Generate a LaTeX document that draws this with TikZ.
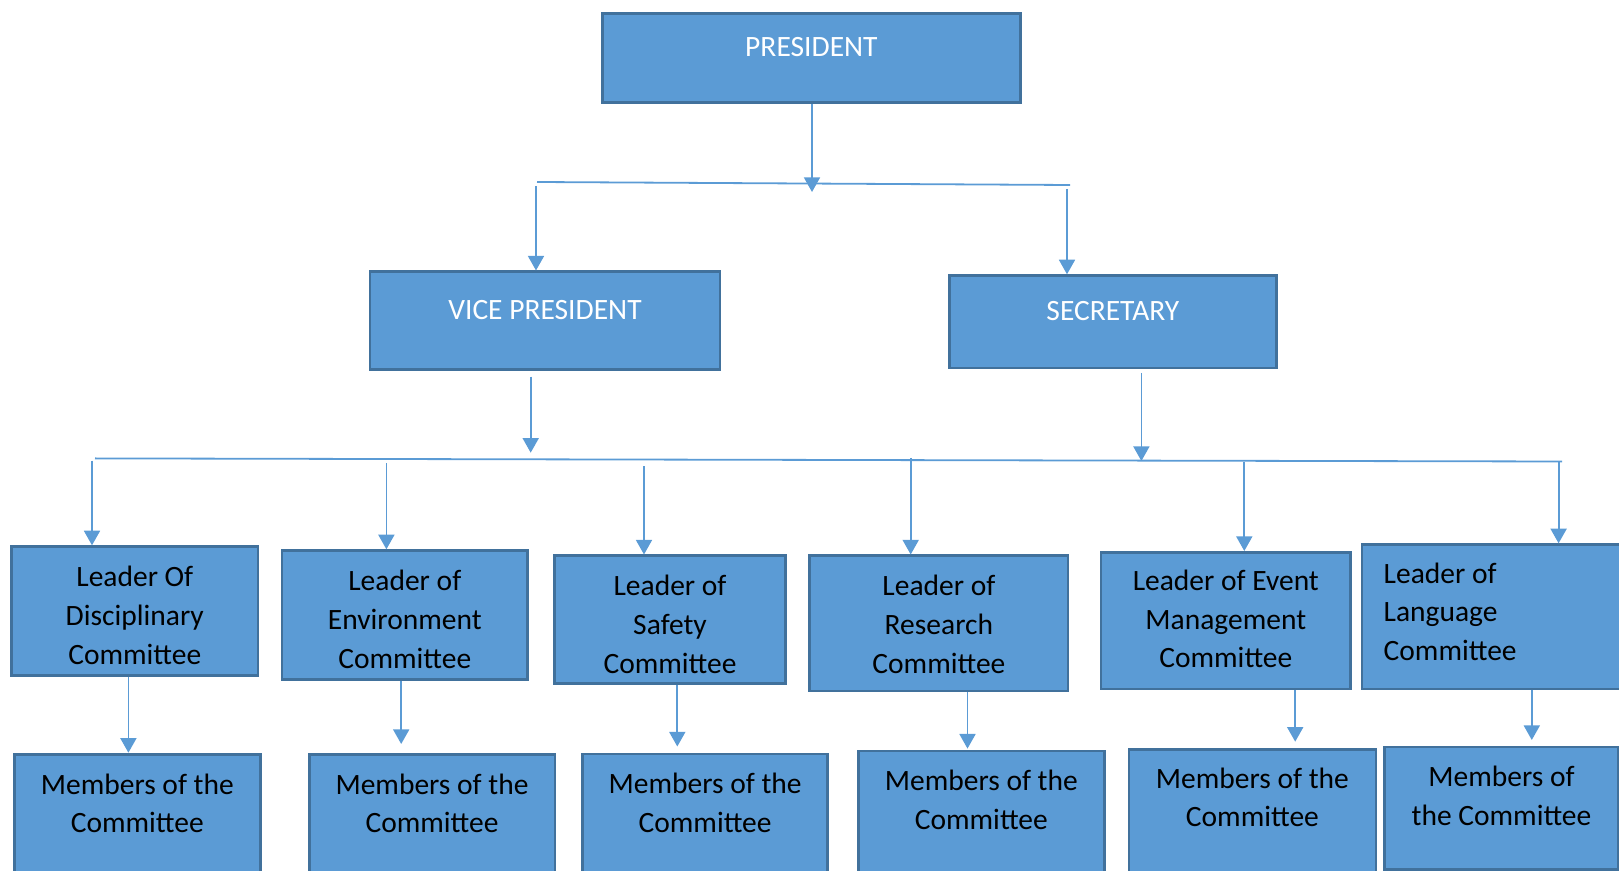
\documentclass[tikz,border=0pt]{standalone}
\usepackage{fontspec}
\setmainfont{Carlito}
\usetikzlibrary{arrows.meta}
\definecolor{boxfill}{RGB}{91,155,213}
\definecolor{boxline}{RGB}{65,113,156}
\definecolor{linkblue}{RGB}{91,155,213}
\newcommand{\boxfont}{\fontsize{14.75}{19.4}\selectfont}
\newcommand{\tipwidth}{8pt}
\newcommand{\tiplength}{7.3pt}
\tikzstyle{unit} = [% any box of the chart
  rectangle,
  draw=boxline,
  fill=boxfill,
  line width=1.4pt,
  inner xsep=0pt,
  inner ysep=0pt,
  align=flush center,
  anchor=north west,
  font=\boxfont
  ]
\tikzstyle{head} = [% office holders
  unit,
  text=white
  ]
\tikzstyle{member} = [% committee boxes
  unit,
  text=black
  ]
\tikzstyle{bus} = [% plain rail line
  draw=linkblue,
  line width=0.9pt
  ]
\tikzstyle{link} = [% arrow format
  bus,
  -{Triangle[width=\tipwidth,length=\tiplength]}
  ]

\begin{document}
\begin{tikzpicture}[x=0.5pt, y=-0.5pt]
\useasboundingbox (0,0) rectangle (1619,871);

%%% Office holders
\node[head, text width=209pt, text height=21.3pt, text depth=23pt] (pres) at (601,12.4) {PRESIDENT};
\node[head, text width=175pt, text height=23.9pt, text depth=25.1pt] (vp) at (368.6,270.5) {VICE PRESIDENT};
\node[head, text width=163.5pt, text height=22.5pt, text depth=23.7pt] (sec) at (948,274.3) {SECRETARY};

%%% Committee leaders
\node[member, text width=123.1pt, text height=19.9pt, text depth=44.6pt] (lead1) at (10.3,545.3) {Leader Of\\Disciplinary\\Committee};
\node[member, text width=122.8pt, text height=19.9pt, text depth=44.6pt] (lead2) at (280.6,549.3) {Leader of\\Environment\\Committee};
\node[member, text width=115.2pt, text height=20pt, text depth=44pt] (lead3) at (553.4,554.5) {Leader of\\Safety\\Committee};
\node[member, text width=129.1pt, text height=20pt, text depth=47.6pt] (lead4) at (808.4,554.5) {Leader of\\Research\\Committee};
\node[member, text width=124.8pt, text height=19pt, text depth=49.3pt] (lead5) at (1099.6,551) {Leader of Event\\Management\\Committee};
\node[member, align=flush left, inner xsep=10.85pt, text width=118.3pt, text height=19.2pt, text depth=53pt] (lead6) at (1360.6,543.3) {Leader of\\Language\\Committee};

%%% Committee members
\node[member, text width=123.2pt, text height=19.7pt, text depth=60pt] (mem1) at (12.7,753.3) {Members of the\\Committee};
\node[member, text width=122.9pt, text height=19.7pt, text depth=60pt] (mem2) at (307.7,753.3) {Members of the\\Committee};
\node[member, text width=122.4pt, text height=19.7pt, text depth=60pt] (mem3) at (581.3,752.7) {Members of the\\Committee};
\node[member, text width=122.9pt, text height=19.7pt, text depth=60pt] (mem4) at (857,749.6) {Members of the\\Committee};
\node[member, text width=123.5pt, text height=19.2pt, text depth=60pt] (mem5) at (1127.5,748.3) {Members of the\\Committee};
\node[member, text width=117.1pt, text height=19.7pt, text depth=41.3pt] (mem6) at (1383,745.7) {Members of\\the Committee};

%%% Rails
\coordinate (railA1) at (537,182);
\coordinate (railA2) at (1070,185);
\coordinate (railB1) at (95,458.4);
\coordinate (railB2) at (1562,461.5);
\draw[bus] (railA1) -- (railA2);
\draw[bus] (railB1) -- (railB2);

%%% President down to the first rail, then to VP and secretary
\coordinate (presjoin) at (812,192);
\coordinate (vpdrop) at (536,186);
\coordinate (secdrop) at (1067,189);
\draw[link] (presjoin |- pres.south) -- (presjoin);
\draw[link] (vpdrop) -- (vpdrop |- vp.north);
\draw[link] (secdrop) -- (secdrop |- sec.north);

%%% VP and secretary down to the second rail
\coordinate (vpjoin) at (530.7,452.7);
\coordinate (secjoin) at (1141.4,461);
\draw[link, shorten <=2.7pt] (vpjoin |- vp.south) -- (vpjoin);
\draw[link, shorten <=1.7pt] (secjoin |- sec.south) -- (secjoin);

%%% Rail to leaders, leaders to members
\foreach \i/\px/\py in {1/92/460.7, 2/386.4/463.3, 3/644/466.5, 4/910.7/458, 5/1244.3/461.7, 6/1558.6/461.7} {
  \coordinate (drop\i) at (\px,\py);
  \draw[link] (drop\i) -- (drop\i |- lead\i.north);
}
\foreach \i/\px/\gap in {1/128.4/0.3, 2/401.2/4.65, 3/677.3/3.1, 4/967.5/0.5, 5/1295.2/3.3, 6/1531.8/2.85}
  \draw[link, shorten >=\gap pt] (\px,0 |- lead\i.south) -- (\px,0 |- mem\i.north);

\end{tikzpicture}
\end{document}
